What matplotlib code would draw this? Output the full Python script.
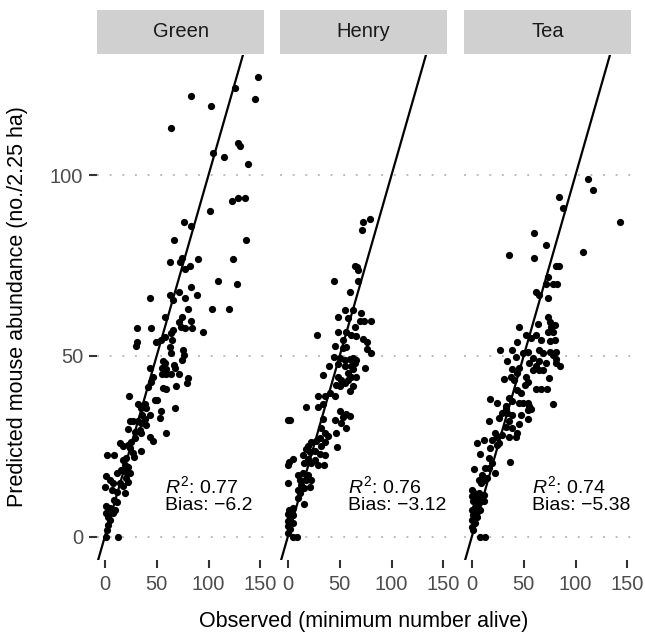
import matplotlib
matplotlib.use("Agg")
import matplotlib.pyplot as plt
import numpy as np

plt.rcParams['font.family'] = ['Liberation Sans', 'DejaVu Sans']
plt.rcParams['mathtext.fontset'] = 'custom'
plt.rcParams['mathtext.rm'] = 'Liberation Sans'
plt.rcParams['mathtext.it'] = 'Liberation Sans:italic'

sites = ["Green", "Henry", "Tea"]
r2_values = ["0.77", "0.76", "0.74"]
bias_values = ["\u22126.2", "\u22123.12", "\u22125.38"]
x_ticks = [0, 50, 100, 150]
y_ticks = [0, 50, 100]

green_pts = [
    (147.8,127.0),(125.9,124.0),(83.5,122.0),(144.5,121.0),(102.8,119.1),(64.3,113.0),(128.5,109.0),
    (130.1,108.0),(104.1,106.0),(115.0,105.1),(137.8,103.0),(122.7,92.9),(128.5,93.8),(135.5,93.8),
    (101.8,90.0),(76.1,86.9),(82.9,85.9),(67.1,82.0),(136.5,82.0),(63.3,75.9),(72.9,76.1),(74.6,77.0),
    (77.1,74.0),(82.3,74.9),(90.0,76.9),(124.0,76.9),(108.9,70.8),(127.8,69.8),(83.5,69.0),(63.0,66.9),
    (72.0,67.8),(77.1,66.1),(89.3,66.9),(43.4,66.1),
    (65.9,65.5),(80.0,62.9),(74.6,60.9),(103.8,62.9),(119.5,62.9),(57.8,60.9),(71.3,59.5),(73.9,58.1),
    (83.5,59.8),(77.1,57.7),(84.5,57.7),(95.1,56.7),(31.2,57.7),(44.3,57.7),(65.9,57.2),(64.3,56.3),
    (57.8,55.3),(54.6,54.4),(49.8,53.8),(31.5,54.0),(30.5,52.8),(64.9,54.4),(63.6,50.9),(75.5,51.7),
    (76.5,50.3),(56.6,48.7),(58.5,48.0),(66.9,47.5),(67.4,46.6),(55.3,46.6),(59.4,46.3),(55.3,45.0),
    (59.4,45.0),(64.0,45.0),(71.3,45.0),(43.4,46.6),(46.6,44.1),(80.3,43.8),(79.4,42.6),(45.0,42.9),
    (56.3,41.1),(59.4,40.8),(69.1,41.7),(41.8,41.5),(23.5,38.8),(48.2,37.8),(50.8,37.8),(38.5,36.7),
    (32.2,36.7),(68.1,35.7),(34.7,35.5),(40.2,35.5),(54.6,34.8),(36.3,33.7),(43.4,33.7),(38.5,32.5),
    (53.0,32.8),(24.1,31.9),(27.4,31.9),(32.2,31.9),(35.4,31.4),(40.2,30.9),(22.5,29.7),(28.9,29.1),
    (33.7,29.6),(35.4,28.6),(43.4,27.7),(46.6,26.6),(59.4,28.6),(28.9,27.3),(25.7,26.3),(14.5,25.9),
    (17.7,25.1),(22.5,25.4),(24.1,24.5),(35.4,23.6),(27.4,23.1),(28.3,22.2),(2.3,22.7),(9.1,22.7),
    (17.7,21.3),(20.9,21.7),(19.3,19.9),(22.5,19.4),(16.1,18.5),(20.9,18.0),(24.1,17.6),(11.3,17.6),
    (1.6,16.9),(4.8,15.7),(8.1,15.0),(20.9,16.2),(22.5,15.3),(14.5,14.8),(17.7,14.1),(0.0,13.7),
    (6.5,13.0),(11.3,12.5),(19.3,12.1),(9.1,10.2),(11.3,9.5),(1.6,8.6),(4.8,7.9),(9.6,7.5),(8.1,6.7),
    (1.6,6.5),(3.3,5.6),(4.8,4.7),(3.3,3.3),(1.6,0.0),(12.9,0.0),(2.3,1.9),(63.0,52.6),(74.6,48.9),
]
henry_pts = [
    (79.1,87.8),(72.6,86.9),(71.7,84.8),(64.6,74.9),(67.2,74.7),(67.8,73.8),(44.5,70.8),(67.8,70.8),
    (59.7,67.8),(54.9,62.7),(62.9,62.7),(48.4,60.9),(58.1,60.4),(70.4,61.8),(69.4,59.8),(73.6,59.8),
    (80.7,59.8),(48.4,56.7),(56.5,56.7),(64.6,58.1),(61.3,55.8),(66.2,55.4),(72.6,54.6),(75.9,53.9),
    (80.7,50.9),(75.9,51.8),(28.4,55.8),(45.9,52.8),(53.3,54.4),(53.3,52.2),(56.5,52.6),(44.5,49.8),
    (50.0,49.4),(54.9,48.8),(59.7,49.1),(62.9,49.4),(64.6,48.1),(66.2,48.8),(48.4,47.7),(54.9,47.2),
    (61.3,47.2),(58.1,45.4),(62.9,46.3),(74.3,46.8),(39.7,47.2),(33.9,44.8),(48.4,44.3),(51.6,43.4),
    (46.8,42.1),(50.0,41.6),(54.9,42.5),(58.1,43.4),(61.3,44.3),(66.2,44.3),(62.9,41.6),(59.7,40.3),
    (29.1,38.8),(35.5,38.8),(40.4,39.7),(45.2,38.8),(17.8,36.0),(29.1,36.0),(33.9,36.8),(50.0,34.9),
    (53.3,33.1),(56.5,34.0),(59.7,33.5),(45.2,32.3),(51.6,31.4),(56.5,30.0),(33.9,32.7),(0.0,32.2),
    (2.6,32.2),(46.8,28.8),(32.3,30.1),(35.5,28.8),(38.7,27.8),(30.7,27.4),(27.5,26.5),(22.6,26.1),
    (19.4,25.2),(35.5,26.1),(32.3,25.2),(47.8,24.8),(17.8,24.3),(21.0,23.4),(25.9,23.8),(30.7,22.9),
    (35.5,22.5),(14.5,22.5),(19.4,21.6),(25.9,21.2),(16.1,20.3),(22.6,20.3),(1.6,20.8),(4.9,21.6),
    (0.0,19.9),(29.1,19.9),(34.9,19.9),(9.7,17.1),(14.5,17.6),(19.4,17.1),(17.8,15.7),(11.3,15.7),
    (22.6,15.7),(0.0,15.0),(12.9,14.3),(16.1,13.6),(9.7,13.0),(21.0,13.7),(11.3,12.1),(9.7,10.8),
    (15.5,9.1),(4.9,7.9),(1.6,7.5),(0.0,6.4),(4.9,6.0),(2.6,5.2),(0.0,4.3),(4.9,3.9),(0.0,3.0),
    (2.6,2.1),(0.0,1.2),(4.9,0.0),(9.1,0.0),
]
tea_pts = [
    (112.4,98.9),(116.7,95.9),(142.7,86.9),(84.1,94.0),(88.0,90.8),(60.3,83.9),(71.1,80.8),(106.9,78.8),
    (35.9,77.8),(60.3,77.0),(81.5,74.9),(84.1,74.9),(73.4,71.7),(71.1,69.9),(78.2,69.9),(82.1,69.9),
    (61.9,67.8),(65.2,66.9),(73.4,65.9),(73.4,60.9),(75.0,59.5),(76.6,58.1),(73.4,56.7),(78.2,56.7),
    (79.9,58.6),(45.7,57.9),(63.6,58.8),(61.9,55.8),(52.2,55.8),(57.0,55.0),(66.8,54.5),(75.0,54.1),
    (79.9,54.5),(44.0,53.8),(27.1,51.7),(39.1,51.7),(48.9,50.8),(53.8,51.2),(65.2,51.7),(68.4,50.8),
    (75.0,51.2),(78.2,50.3),(81.5,51.2),(34.2,48.7),(42.4,49.8),(58.7,49.4),(55.4,48.1),(65.2,48.5),
    (61.9,47.2),(71.7,48.1),(81.5,48.1),(84.8,47.2),(80.8,49.1),(45.7,46.7),(58.7,46.1),(65.2,46.1),
    (68.4,46.1),(74.3,43.8),(39.1,46.4),(44.0,45.4),(30.9,43.6),(37.5,44.3),(40.7,43.4),(52.2,44.3),
    (53.8,42.9),(61.9,40.8),(66.8,40.8),(72.7,40.8),(51.5,41.9),(44.0,40.6),(47.3,39.7),(35.9,38.4),
    (39.1,37.5),(17.9,38.0),(24.5,37.1),(32.6,36.3),(45.7,37.1),(48.9,37.1),(53.8,37.1),(55.4,36.3),
    (78.2,36.7),(57.0,35.4),(53.8,35.0),(47.3,33.6),(53.8,32.7),(32.6,35.4),(29.3,34.1),(34.2,34.1),
    (39.1,33.6),(45.7,31.3),(16.3,31.9),(26.1,32.8),(35.9,31.9),(32.6,30.5),(39.1,30.1),(44.0,28.7),
    (22.8,28.8),(24.5,27.7),(29.3,28.1),(35.9,27.7),(42.4,27.7),(4.9,25.9),(11.4,26.8),(19.6,26.8),
    (26.1,25.9),(17.9,24.5),(24.5,25.4),(8.2,22.9),(16.9,21.7),(19.6,20.3),(13.1,18.9),(16.3,18.9),
    (36.5,20.8),(2.6,18.7),(9.8,17.2),(6.5,15.8),(11.4,15.8),(14.7,16.3),(22.8,17.6),(9.1,15.0),
    (0.0,13.0),(2.6,12.1),(6.5,12.1),(11.4,11.6),(0.0,11.2),(4.9,10.7),(9.8,10.7),(1.6,9.8),(6.5,9.4),
    (11.4,9.8),(3.3,8.3),(0.0,7.4),(4.9,7.0),(8.2,7.4),(1.6,6.0),(4.9,5.5),(0.0,4.6),(3.3,3.7),
    (0.0,2.8),(1.6,1.9),(8.2,0.0),(13.0,0.0),
]
site_points = [green_pts, henry_pts, tea_pts]

W, H = 645, 636
fig = plt.figure(figsize=(W/100, H/100), dpi=100)

panel_left = [97, 280, 464]
panel_w = 167
panel_top, panel_bot = 55, 560
strip_top = 9.5

xlim = (-7.5, 153.5)
ylim = (-6.4, 133.2)

tick_col = '#4D4D4D'
for i, site in enumerate(sites):
    l = panel_left[i] / W
    b = 1 - panel_bot / H
    ax = fig.add_axes([l, b, panel_w / W, (panel_bot - panel_top) / H])
    pts = np.array(site_points[i])
    ax.set_xlim(*xlim)
    ax.set_ylim(*ylim)
    for s in ax.spines.values():
        s.set_visible(False)
    for yv in y_ticks:
        ax.axhline(yv, color='#BDBDBD', lw=1.4, ls=(0, (1, 5.5)), zorder=0)
    ax.plot([-20, 200], [-20, 200], color='black', lw=1.6, zorder=3)
    ax.scatter(pts[:, 0], pts[:, 1], s=27, color='black', linewidths=0, zorder=2)
    ax.set_xticks(x_ticks)
    ax.set_xticklabels([str(t) for t in x_ticks])
    ax.set_yticks(y_ticks)
    ax.tick_params(axis='x', length=5.5, width=1.5, color='#333333', labelsize=14.5,
                   labelcolor=tick_col, pad=5.5)
    if i == 0:
        ax.tick_params(axis='y', length=5.5, width=1.5, color='#333333', labelsize=14.5,
                       labelcolor=tick_col, pad=4.5)
    else:
        ax.tick_params(axis='y', length=0, labelleft=False)
    ax.set_facecolor('none')
    ax.text(58, 12.1, r"$R^2$: " + r2_values[i], fontsize=14, ha='left', va='baseline',
            color='black')
    ax.text(58, 7.3, "Bias: " + bias_values[i], fontsize=14, ha='left', va='baseline',
            color='black')

    sax = fig.add_axes([l, 1 - 54 / H, panel_w / W, (54 - strip_top) / H])
    sax.set_facecolor('#D0D0D0')
    sax.set_xticks([]); sax.set_yticks([])
    for s in sax.spines.values():
        s.set_visible(False)
    sax.text(0.5, 0.5, site, ha='center', va='center', fontsize=14.5, color='#1A1A1A',
             transform=sax.transAxes)

fig.text((97 + 631) / 2 / W, 1 - 622 / H, "Observed (minimum number alive)", ha='center',
         va='center', fontsize=15.5, color='black')
fig.text(18 / W, 1 - 307 / H, "Predicted mouse abundance (no./2.25 ha)", ha='center',
         va='center', rotation=90, fontsize=15.5, color='black')

fig.savefig("out.png", dpi=100, facecolor='white')
